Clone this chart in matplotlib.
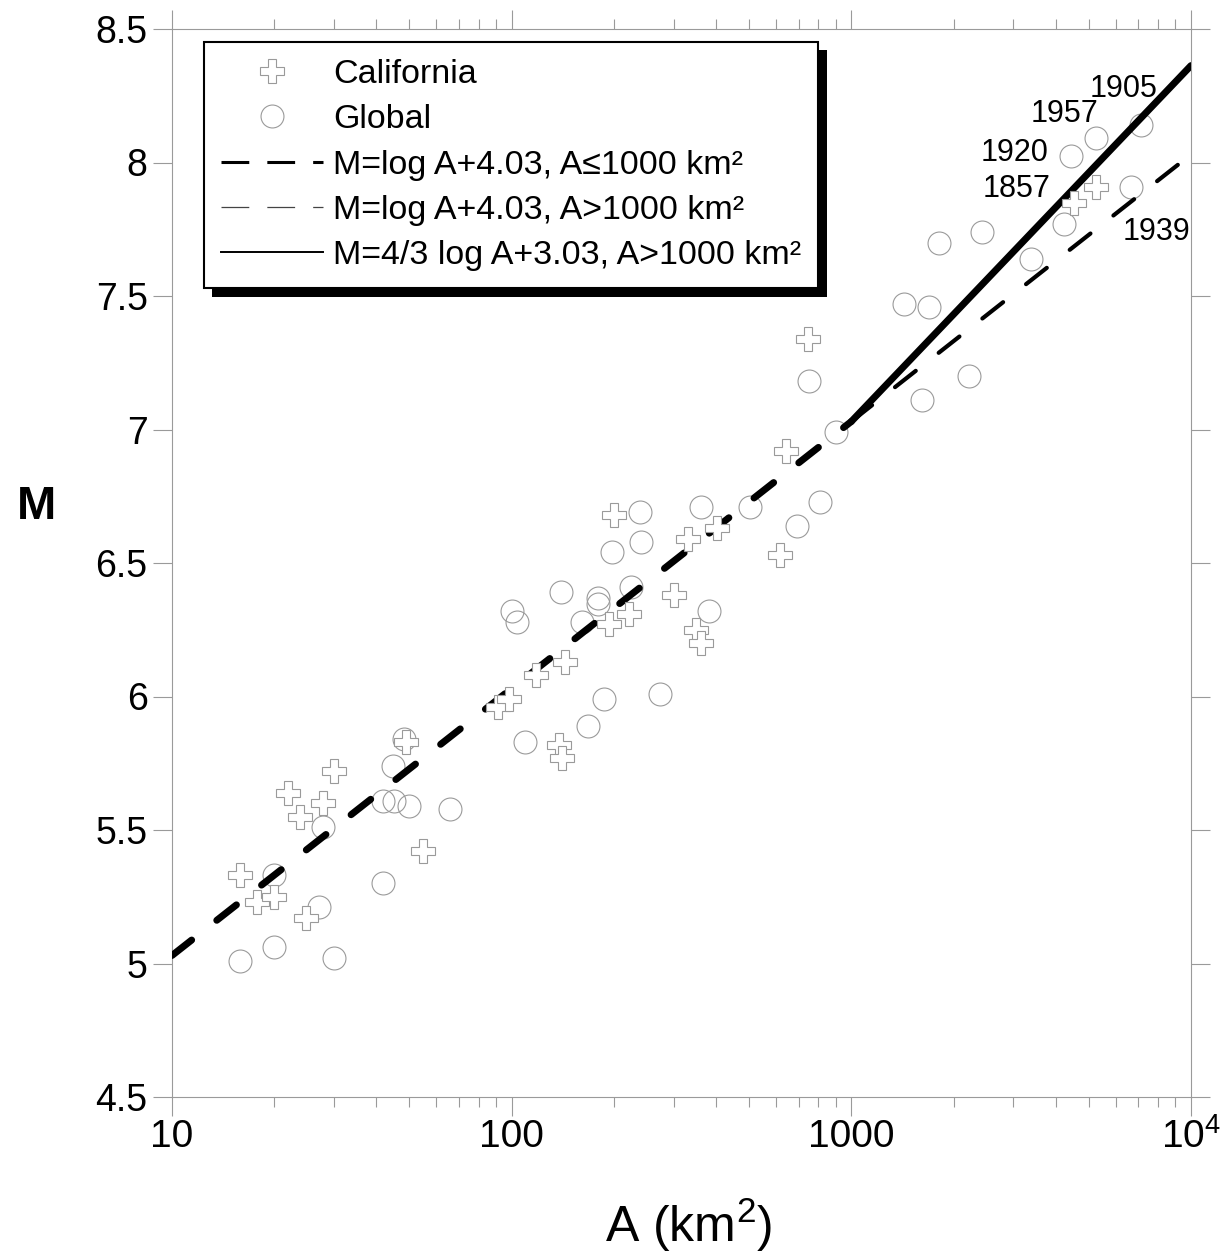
import matplotlib
matplotlib.use("Agg")
import matplotlib.pyplot as plt
import matplotlib.patheffects as pe
from matplotlib.lines import Line2D
from matplotlib.ticker import FixedLocator, FixedFormatter, LogLocator, NullFormatter

plt.rcParams['font.family'] = ['Liberation Sans', 'DejaVu Sans']
plt.rcParams['mathtext.fontset'] = 'custom'
plt.rcParams['mathtext.rm'] = 'Liberation Sans'
plt.rcParams['mathtext.it'] = 'Liberation Sans'
plt.rcParams['mathtext.bf'] = 'Liberation Sans:bold'
plt.rcParams['lines.scale_dashes'] = False

# California events (cross)
cal_A = [15.9, 17.8, 20.0, 24.8, 21.9, 23.8, 27.9, 30.0, 49.0, 54.9,
         91.4, 98.4, 118, 143.6, 138, 140.8, 200, 192.8, 221, 331,
         403, 300, 617, 349.5, 362, 641, 745.6, 4530, 5250]
cal_M = [5.33, 5.23, 5.25, 5.17, 5.64, 5.55, 5.60, 5.72, 5.83, 5.42,
         5.96, 5.99, 6.08, 6.13, 5.82, 5.77, 6.68, 6.27, 6.31, 6.59,
         6.63, 6.38, 6.53, 6.25, 6.20, 6.92, 7.34, 7.85, 7.91]

# global events (circle)
glo_A = [15.9, 20.0, 30.0, 20.0, 27.0, 27.9, 44.7, 48.1, 41.8, 44.9,
         50.0, 66.0, 41.8, 109.7, 168, 186.7, 274, 239, 240.5, 197.7,
         140, 100.2, 103.7, 180, 180, 224, 161, 360, 503, 807,
         693, 381, 750, 903, 1429, 1694, 2223, 1613, 1814, 2432,
         3379, 4236, 4434, 5250, 7126, 6660]
glo_M = [5.01, 5.06, 5.02, 5.33, 5.21, 5.51, 5.74, 5.84, 5.61, 5.61,
         5.59, 5.58, 5.30, 5.83, 5.89, 5.99, 6.01, 6.69, 6.58, 6.54,
         6.39, 6.32, 6.28, 6.37, 6.345, 6.41, 6.28, 6.71, 6.71, 6.73,
         6.64, 6.32, 7.18, 6.99, 7.47, 7.46, 7.20, 7.11, 7.70, 7.74,
         7.64, 7.77, 8.025, 8.09, 8.14, 7.91]

# fit lines (end points)
fit1_A = [10, 1000]
fit1_M = [5.03, 7.03]
fit2_A = [1000, 10000]
fit2_M = [7.03, 8.03]
fit3_A = [1000, 10000]
fit3_M = [7.03, 8.363]

# labelled events
ev_names = ['1905', '1957', '1920', '1857', '1939']
ev_A = [6310, 4230, 3030, 3073, 7890]
ev_M = [8.275, 8.181, 8.035, 7.900, 7.739]

x_ticks = [10, 100, 1000, 10000]
x_ticklabels = ['10', '100', '1000', r'$\mathregular{10^4}$']
y_ticks = [4.5, 5, 5.5, 6, 6.5, 7, 7.5, 8, 8.5]
y_ticklabels = ['4.5', '5', '5.5', '6', '6.5', '7', '7.5', '8', '8.5']

gray = '#9a9a9a'

fig = plt.figure(figsize=(12.26, 12.53), dpi=100)
ax = fig.add_axes([172 / 1226, 156 / 1253, 1019 / 1226, 1068 / 1253])

ax.plot(glo_A, glo_M, linestyle='none', marker='o', markersize=16.5,
        markerfacecolor='none', markeredgecolor=gray, markeredgewidth=0.8, zorder=2)

ax.plot(fit1_A, fit1_M, color='black', lw=5, dashes=(18, 23),
        dash_capstyle='round', zorder=3)
ax.plot(fit2_A, fit2_M, color='black', lw=3, dashes=(19, 21),
        dash_capstyle='round', zorder=3)
ax.plot(fit3_A, fit3_M, color='black', lw=5, solid_capstyle='round', zorder=3)

ax.plot(cal_A, cal_M, linestyle='none', marker='P', markersize=17,
        markerfacecolor='white', markeredgecolor=gray, markeredgewidth=0.8, zorder=4)

for name, a, m in zip(ev_names, ev_A, ev_M):
    ax.text(a, m, name, fontsize=22, ha='center', va='center', zorder=5)

ax.set_xscale('log')
ax.set_xlim(10, 10000)
ax.set_ylim(4.5, 8.5)

ax.xaxis.set_major_locator(FixedLocator(x_ticks))
ax.xaxis.set_major_formatter(FixedFormatter(x_ticklabels))
ax.xaxis.set_minor_locator(LogLocator(base=10, subs=range(2, 10)))
ax.xaxis.set_minor_formatter(NullFormatter())
ax.yaxis.set_major_locator(FixedLocator(y_ticks))
ax.yaxis.set_major_formatter(FixedFormatter(y_ticklabels))

for s in ax.spines.values():
    s.set_color(gray)
    s.set_linewidth(0.8)

ax.tick_params(which='both', direction='out', top=True, right=True,
               color=gray, width=0.8)
ax.tick_params(which='major', length=13.5)
ax.tick_params(which='minor', length=7)
ax.tick_params(axis='x', which='major', labelsize=28, pad=2)
ax.tick_params(axis='y', which='major', labelsize=27, pad=4)

ax.set_xlabel(r'A (km$^2$)', fontsize=36, va='baseline')
ax.xaxis.set_label_coords((689 - 172) / 1019, (1097 - 1242) / 1068)
ax.set_ylabel('M', fontsize=34, fontweight='bold', rotation=0, va='center', ha='center')
ax.yaxis.set_label_coords((36 - 172) / 1019, (1097 - 507) / 1068)

handles = [
    Line2D([], [], linestyle='none', marker='P', markersize=17,
           markerfacecolor='white', markeredgecolor=gray, markeredgewidth=0.8),
    Line2D([], [], linestyle='none', marker='o', markersize=16.5,
           markerfacecolor='none', markeredgecolor=gray, markeredgewidth=0.8),
    Line2D([], [], color='black', lw=2.2, dashes=(20, 13)),
    Line2D([], [], color='#444444', lw=0.9, dashes=(20, 13)),
    Line2D([], [], color='black', lw=1.4),
]
labels = [
    'California',
    'Global',
    'M=log A+4.03, A≤1000 km²',
    'M=log A+4.03, A>1000 km²',
    'M=4/3 log A+3.03, A>1000 km²',
]
leg = ax.legend(handles, labels, loc='upper left',
                bbox_to_anchor=((204 - 172) / 1019, (1097 - 42) / 1068),
                borderaxespad=0, fontsize=24.5, frameon=True, fancybox=False,
                handlelength=3.0, handletextpad=0.3, borderpad=0.5,
                labelspacing=0.42)
frame = leg.get_frame()
frame.set_edgecolor('black')
frame.set_linewidth(1.5)
frame.set_facecolor('white')
frame.set_alpha(1)
frame.set_path_effects([pe.SimplePatchShadow(offset=(6, -6), shadow_rgbFace='black', alpha=1),
                        pe.Normal()])
leg.set_zorder(10)

fig.savefig('out.png', dpi=100)
